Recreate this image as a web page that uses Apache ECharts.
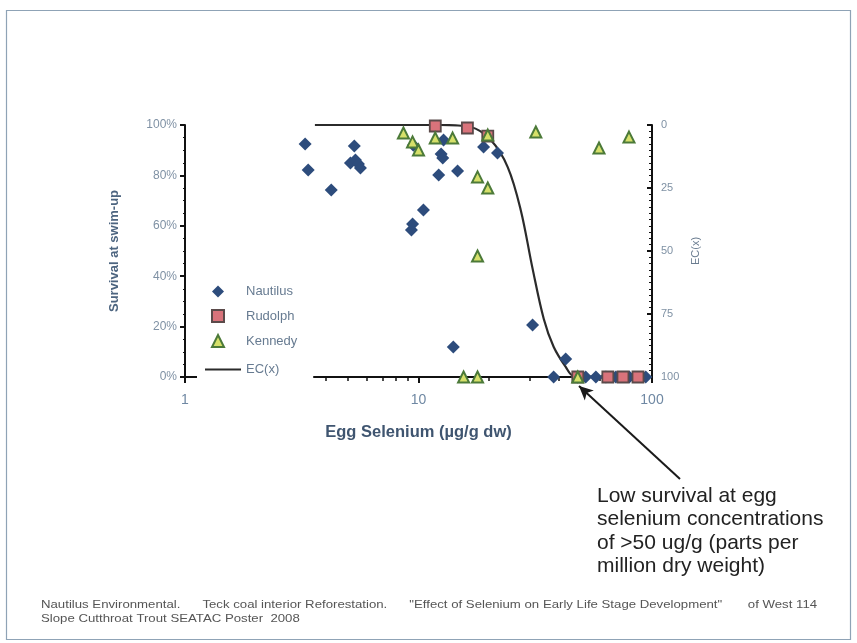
<!DOCTYPE html>
<html>
<head>
<meta charset="utf-8">
<script src="https://cdn.jsdelivr.net/npm/echarts@6/dist/echarts.min.js"></script>
<style>
  html, body { margin: 0; padding: 0; background: #fff; }
  #chart { width: 857px; height: 643px; }
</style>
</head>
<body>
<div id="chart"></div>
<script>
// Egg selenium (µg/g dw) vs. survival at swim-up (%), by site
const nautilus = [
  [3.27, 92.5], [3.37, 82.1], [4.23, 74.2], [5.31, 91.7], [5.11, 84.9],
  [5.37, 86.1], [5.53, 84.5], [5.64, 82.9], [9.5, 92.0], [9.33, 58.3],
  [9.43, 60.7], [10.5, 66.3], [12.2, 80.2], [12.5, 88.5], [12.7, 86.9],
  [12.8, 94.0], [14.7, 81.7], [14.1, 11.9], [19.0, 91.3], [21.8, 88.9],
  [30.8, 20.6], [37.9, 0], [42.7, 7.1], [48.0, 0], [52.0, 0], [57.5, 0],
  [63.5, 0], [70.0, 0], [80.0, 0], [94.0, 0]
];
const rudolph = [
  [11.8, 99.6], [16.2, 98.8], [19.8, 95.6],
  [48.1, 0], [64.7, 0], [75.1, 0], [87.1, 0]
];
const kennedy = [
  [8.62, 96.8], [9.43, 93.3], [10.0, 90.1], [11.8, 94.8], [14.0, 94.8],
  [19.8, 96.0], [17.9, 79.4], [19.8, 75.0], [17.9, 48.0], [31.8, 97.2],
  [59.3, 90.9], [79.7, 95.2], [15.6, 0], [17.9, 0], [48.1, 0]
];
// Fitted effect-concentration curve, EC(x) in % effect (right axis)
const ecCurve = [
  [3.6, 0], [12.4, 0], [16.7, 0.8], [20.4, 6], [24.1, 16.7], [27.4, 33.7],
  [30.8, 57], [34.4, 77], [37.9, 88], [42.7, 96], [46.3, 99.6], [100, 100]
];
const survivalTicks = [0, 20, 40, 60, 80, 100];
const ecTicks = [0, 25, 50, 75, 100];

const chart = echarts.init(document.getElementById('chart'), null, { renderer: 'canvas' });
const font = 'Liberation Sans, Arial, sans-serif';
const tickColor = '#7f91a4';
const diamondPath = 'path://M0,-1L1,0L0,1L-1,0Z';

chart.setOption({
  animation: false,
  backgroundColor: '#ffffff',
  grid: { left: 185, right: 205, top: 125, bottom: 266, containLabel: false },
  xAxis: {
    type: 'log', logBase: 10, min: 1, max: 100,
    axisLine: { show: true, lineStyle: { color: '#111', width: 2 } },
    axisTick: { show: true, length: 6, lineStyle: { color: '#111', width: 2 } },
    minorTick: { show: true, splitNumber: 9, length: 4, lineStyle: { color: '#111', width: 1.5 } },
    splitLine: { show: false },
    axisLabel: { color: '#6f88a3', fontSize: 14, fontFamily: font, margin: 16 },
    name: 'Egg Selenium (µg/g dw)', nameLocation: 'middle', nameGap: 47,
    nameTextStyle: { color: '#3f5570', fontSize: 16.5, fontWeight: 'bold', fontFamily: font }
  },
  yAxis: [
    {
      type: 'value', min: 0, max: 100, interval: 20, position: 'left',
      axisLine: { show: true, lineStyle: { color: '#111', width: 2 } },
      axisTick: { show: true, length: 5, lineStyle: { color: '#111', width: 2 } },
      minorTick: { show: true, splitNumber: 4, length: 2, lineStyle: { color: '#111' } },
      splitLine: { show: false },
      axisLabel: { color: tickColor, fontSize: 12, fontFamily: font, margin: 8,
                   formatter: v => survivalTicks.includes(v) ? v + '%' : '' },
      name: 'Survival at swim-up', nameLocation: 'middle', nameGap: 64, nameRotate: 90,
      nameTextStyle: { color: '#4d6580', fontSize: 13, fontWeight: 'bold', fontFamily: font }
    },
    {
      type: 'value', min: 0, max: 100, interval: 25, position: 'right', inverse: true,
      axisLine: { show: true, lineStyle: { color: '#111', width: 2 } },
      axisTick: { show: true, inside: true, length: 5, lineStyle: { color: '#111', width: 2 } },
      minorTick: { show: true, splitNumber: 10, length: 3, lineStyle: { color: '#111' } },
      splitLine: { show: false },
      axisLabel: { color: tickColor, fontSize: 11, fontFamily: font, margin: 9,
                   formatter: v => ecTicks.includes(v) ? String(v) : '' },
      name: 'EC(x)', nameLocation: 'middle', nameGap: 24, nameRotate: 90,
      nameTextStyle: { color: '#6a7c90', fontSize: 11, fontFamily: font }
    }
  ],
  legend: [
    {
      orient: 'vertical', left: 209, top: 283,
      itemWidth: 12, itemHeight: 12, itemGap: 11,
      padding: [2, 8, 2, 2],
      backgroundColor: '#ffffff',
      textStyle: { color: '#677b91', fontSize: 13, fontFamily: font, padding: [0, 0, 0, 17] },
      data: [
        { name: 'Nautilus', icon: diamondPath },
        { name: 'Rudolph', icon: 'rect' },
        { name: 'Kennedy', icon: 'triangle' }
      ]
    },
    {
      orient: 'vertical', left: 197, top: 359,
      itemWidth: 36, itemHeight: 2,
      padding: [4, 34, 14, 8],
      backgroundColor: '#ffffff',
      textStyle: { color: '#677b91', fontSize: 13, fontFamily: font },
      data: [{ name: 'EC(x)', icon: 'rect' }]
    }
  ],
  series: [
    {
      name: 'EC(x)', type: 'line', yAxisIndex: 1, data: ecCurve,
      smooth: 0.35, showSymbol: false, symbol: 'none', z: 1,
      lineStyle: { color: '#2b2b2b', width: 2.2 },
      itemStyle: { color: '#2b2b2b' },
      markLine: {
        silent: true, symbol: ['none', 'arrow'], symbolSize: [10, 14],
        label: { show: false },
        lineStyle: { color: '#1a1a1a', width: 2, type: 'solid' },
        data: [[{ x: 680, y: 479 }, { x: 579, y: 386 }]]
      }
    },
    {
      name: 'Nautilus', type: 'scatter', data: nautilus, symbol: diamondPath, symbolSize: 13, z: 3,
      itemStyle: { color: '#2d4c7c', opacity: 1 }
    },
    {
      name: 'Rudolph', type: 'scatter', data: rudolph, symbol: 'rect', symbolSize: 11, z: 4,
      itemStyle: { color: '#d9737b', borderColor: '#5b4a4a', borderWidth: 1.8, opacity: 1 }
    },
    {
      name: 'Kennedy', type: 'scatter', data: kennedy, symbol: 'triangle', symbolSize: 11, z: 5,
      itemStyle: { color: '#d6e06a', borderColor: '#4c7a39', borderWidth: 2, opacity: 1 }
    }
  ],
  graphic: [
    {
      type: 'rect', silent: true, z: -10,
      shape: { x: 6.5, y: 10.5, width: 844, height: 629 },
      style: { fill: 'none', stroke: '#8fa3b6', lineWidth: 1.2 }
    },
    {
      type: 'text', left: 597, top: 484,
      style: {
        text: 'Low survival at egg\nselenium concentrations\nof >50 ug/g (parts per\nmillion dry weight)',
        fill: '#222222', font: '21px ' + font, lineHeight: 23.5
      }
    },
    {
      type: 'text', x: 41, y: 598, scaleX: 1.2,
      style: {
        text: 'Nautilus Environmental.      Teck coal interior Reforestation.      "Effect of Selenium on Early Life Stage Development"       of West 114\nSlope Cutthroat Trout SEATAC Poster  2008',
        fill: '#555555', font: '11px ' + font, lineHeight: 14
      }
    }
  ]
});
</script>
</body>
</html>
